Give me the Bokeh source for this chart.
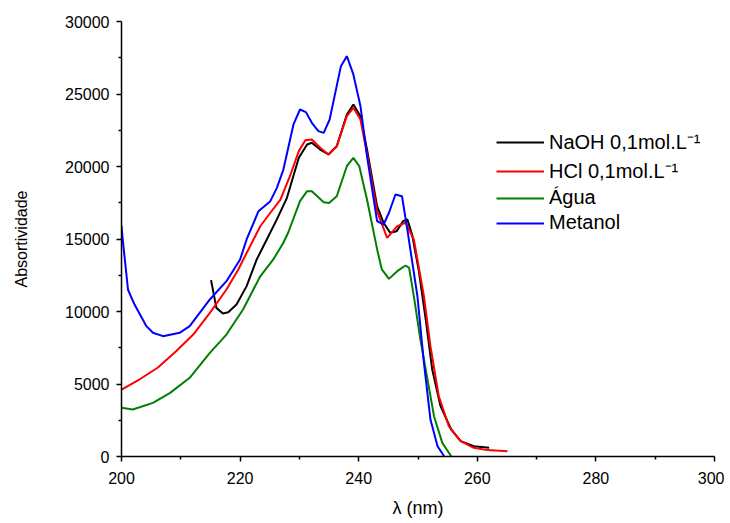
from bokeh.plotting import figure
from bokeh.models import Range1d, Legend, LegendItem, FixedTicker
from bokeh.embed import file_html
from bokeh.resources import INLINE

# ---- data ----
naoh_x = [215.1, 216.0, 217.1, 218.0, 219.4, 221.1, 222.8, 224.5, 226.2, 227.9, 229.9, 231.3, 232.1,
          233.5, 234.9, 236.3, 238.0, 239.1, 240.3, 241.4, 243.1, 244.2, 245.3, 246.4, 247.5, 248.2,
          249.0, 250.1, 251.3, 252.4, 253.8, 255.6, 257.2, 259.4, 262.0]
naoh_y = [12160, 10250, 9860, 9950, 10480, 11750, 13590, 14970, 16350, 17840, 20600, 21520, 21640,
          21170, 20830, 21400, 23590, 24280, 23470, 21170, 17260, 16120, 15430, 15540, 16230, 16350,
          15310, 12900, 9450, 6000, 3470, 1860, 1060, 710, 600]

hcl_x = [200, 203, 206.1, 209.2, 212.1, 214.9, 217.7, 219.7, 221.4, 223.4, 225.1, 226.8, 228.4, 229.9,
         231.0, 232.1, 233.5, 234.9, 236.3, 238.0, 239.1, 240.3, 241.4, 243.1, 244.8, 246.5, 247.9,
         249.3, 251.0, 252.1, 253.5, 255.2, 257.2, 259.4, 261.7, 265.1]
hcl_y = [4620, 5310, 6120, 7260, 8410, 9910, 11520, 12900, 14280, 15880, 16810, 17720, 19330, 21060,
         21810, 21860, 21290, 20830, 21400, 23470, 24050, 23240, 20900, 16900, 15080, 15890, 16120,
         14970, 11060, 7610, 4160, 2090, 1060, 600, 440, 370]

agua_x = [200, 201.9, 205.3, 208.2, 211.5, 214.9, 217.7, 220.5, 223.4, 225.6, 227.3, 228.1, 230.1,
          231.3, 232.1, 234.1, 235.0, 236.3, 238.0, 239.1, 240.1, 241.4, 243.1, 243.9, 245.1, 246.5,
          247.9, 248.5, 249.3, 250.4, 251.6, 252.7, 254.1, 255.6]
agua_y = [3360, 3240, 3700, 4390, 5430, 7150, 8410, 10140, 12430, 13590, 14740, 15430, 17610,
          18300, 18300, 17540, 17490, 17950, 20020, 20600, 20020, 17720, 14300, 12900, 12250, 12780,
          13170, 13010, 11060, 8070, 5310, 2780, 940, 20]

metanol_x = [200, 200.2, 201.1, 202.2, 204.2, 205.3, 207, 209.8, 211.5, 214.9, 217.7, 220, 221.1, 223.1,
             225.1, 226.2, 227.3, 229, 230.1, 231.1, 232.1, 233.2, 234.1, 235.1, 237.0, 238.0,
             239.1, 240.3, 241.4, 243.1, 244.2, 245.1, 246.2, 247.3, 248.2, 249.9, 251.0, 252.1,
             253.3, 254.4]
metanol_y = [15900, 15000, 11500, 10480, 8990, 8530, 8300, 8530, 8990, 10830, 12090, 13590, 14970, 16920,
             17610, 18530, 19790, 22900, 23930, 23750, 23010, 22440, 22320, 23240, 26920, 27610,
             26350, 24160, 20710, 16230, 16000, 16810, 18070, 17950, 15660, 11060, 6460, 2550,
             710, 20]

series_labels = ["NaOH 0,1mol.L\u207b\u00b9", "HCl 0,1mol.L\u207b\u00b9", "\u00c1gua", "Metanol"]
x_ticks = [200, 220, 240, 260, 280, 300]
x_minor = [210, 230, 250, 270, 290]
y_ticks = [0, 5000, 10000, 15000, 20000, 25000, 30000]
y_minor = [2500, 7500, 12500, 17500, 22500, 27500]

FONT = "Liberation Sans"

p = figure(width=724, height=522, output_backend="svg", toolbar_location=None,
           x_range=Range1d(200, 300), y_range=Range1d(0, 30000),
           min_border_left=121, min_border_right=10, min_border_top=21, min_border_bottom=66)
p.outline_line_color = None
p.xgrid.visible = False
p.ygrid.visible = False

r1 = p.line(naoh_x, naoh_y, line_color="black", line_width=2)
r2 = p.line(hcl_x, hcl_y, line_color="#ff0000", line_width=2)
r3 = p.line(agua_x, agua_y, line_color="#008000", line_width=2)
r4 = p.line(metanol_x, metanol_y, line_color="#0000ff", line_width=2)

for ax in (p.xaxis[0], p.yaxis[0]):
    ax.axis_line_color = "black"
    ax.axis_line_width = 1.5
    ax.major_tick_line_color = "black"
    ax.major_tick_line_width = 1.5
    ax.minor_tick_line_color = "black"
    ax.minor_tick_line_width = 1.5
    ax.major_tick_in = 0
    ax.major_tick_out = 5
    ax.minor_tick_in = 0
    ax.minor_tick_out = 3
    ax.major_label_text_font = FONT
    ax.major_label_text_font_size = "16px"
    ax.major_label_text_color = "black"
    ax.axis_label_text_font = FONT
    ax.axis_label_text_font_style = "normal"
    ax.axis_label_text_color = "black"

p.xaxis[0].axis_label_text_font_size = "18px"
p.yaxis[0].axis_label_text_font_size = "16px"
p.xaxis[0].ticker = FixedTicker(ticks=x_ticks, minor_ticks=x_minor)
p.yaxis[0].ticker = FixedTicker(ticks=y_ticks, minor_ticks=y_minor)
p.xaxis[0].axis_label = "\u03bb (nm)"
p.yaxis[0].axis_label = "Absortividade"
p.xaxis[0].major_label_standoff = 10
p.yaxis[0].major_label_standoff = 7
p.xaxis[0].axis_label_standoff = 11
p.yaxis[0].axis_label_standoff = 32

legend = Legend(items=[LegendItem(label=series_labels[0], renderers=[r1]),
                       LegendItem(label=series_labels[1], renderers=[r2]),
                       LegendItem(label=series_labels[2], renderers=[r3]),
                       LegendItem(label=series_labels[3], renderers=[r4])],
                location=(375, 222), border_line_color=None, background_fill_alpha=0,
                padding=0, margin=0, spacing=2, label_height=20, glyph_height=20,
                glyph_width=48, label_standoff=5,
                label_text_font=FONT, label_text_font_size="20px", label_text_color="black")
p.add_layout(legend)

open("out.html", "w").write(file_html(p, INLINE))
